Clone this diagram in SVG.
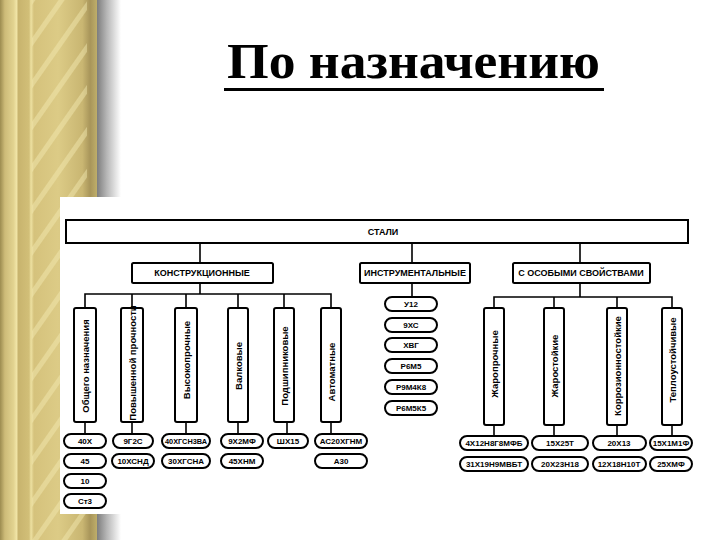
<svg xmlns="http://www.w3.org/2000/svg" width="720" height="540" viewBox="0 0 720 540">
<defs>
<linearGradient id="gold" x1="0" y1="0" x2="97" y2="0" gradientUnits="userSpaceOnUse">
<stop offset="0" stop-color="#9c8c50"/>
<stop offset="0.05" stop-color="#cdbb78"/>
<stop offset="0.14" stop-color="#e2d390"/>
<stop offset="0.17" stop-color="#f0e4a6"/>
<stop offset="0.19" stop-color="#c8b46e"/>
<stop offset="0.3" stop-color="#d2bf78"/>
<stop offset="0.32" stop-color="#ede1a2"/>
<stop offset="0.35" stop-color="#d5c27c"/>
<stop offset="0.6" stop-color="#dccb86"/>
<stop offset="0.85" stop-color="#c9b672"/>
<stop offset="0.93" stop-color="#a8955a"/>
<stop offset="1" stop-color="#bfae6a"/>
</linearGradient>
<linearGradient id="shadow" x1="0" y1="0" x2="1" y2="0">
<stop offset="0" stop-color="#7d7d7d"/>
<stop offset="0.4" stop-color="#b5b5b5"/>
<stop offset="1" stop-color="#ffffff"/>
</linearGradient>
<pattern id="streaks" width="24" height="24" patternUnits="userSpaceOnUse" patternTransform="rotate(-55)">
<rect x="0" y="0" width="24" height="5" fill="#f5ebb5" opacity="0.45"/>
</pattern>
<style>
.box{fill:#fff;stroke:#000;stroke-width:2;}
.pill{fill:#fff;stroke:#000;stroke-width:2;}
.ln{fill:none;stroke:#000;stroke-width:1.6;}
.hd{font-family:"Liberation Sans",Arial,sans-serif;font-weight:bold;font-size:9px;fill:#000;text-anchor:middle;dominant-baseline:central;}
.vt{font-family:"Liberation Sans",Arial,sans-serif;font-weight:bold;font-size:9.5px;fill:#000;text-anchor:middle;dominant-baseline:central;}
.pt{font-family:"Liberation Sans",Arial,sans-serif;font-weight:bold;font-size:8px;fill:#000;text-anchor:middle;dominant-baseline:central;}
.title{font-family:"Liberation Serif","Times New Roman",serif;font-weight:bold;font-size:50px;fill:#000;}
</style>
</defs>

<rect x="0" y="0" width="720" height="540" fill="#fff"/>
<g id="background-strip">
<rect x="0" y="0" width="97" height="540" fill="url(#gold)"/>
<rect x="32" y="0" width="55" height="540" fill="url(#streaks)"/>
<rect x="97" y="0" width="24" height="540" fill="url(#shadow)"/>
</g>

<g id="title">
<text class="title" x="227" y="78" textLength="373" lengthAdjust="spacingAndGlyphs">По назначению</text>
<rect x="224" y="88" width="380" height="3" fill="#000"/>
</g>

<rect id="diagram-paper" x="60" y="197" width="634" height="317" fill="#fff"/>

<g id="connectors">
<path class="ln" d="M200 243V263 M412 243V263 M580 243V263"/>
<path class="ln" d="M200 283V294 M85 308V294H331V308 M132 294V308 M186 294V308 M238 294V308 M284 294V308"/>
<path class="ln" d="M412 283V297"/>
<path class="ln" d="M580 283V297 M494 308V297H672V308 M554 297V308 M617 297V308"/>
<path class="ln" d="M85 422V434 M132 422V434 M186 422V434 M238 422V434 M287 422V434 M331 422V434"/>
<path class="ln" d="M494 425V436 M554 425V436 M617 425V436 M672 425V436"/>
</g>

<g id="node-stali"><rect class="box" x="66" y="220" width="622" height="23"/><text class="hd" x="383" y="232">СТАЛИ</text></g>
<g id="node-konstr"><rect class="box" x="132" y="263" width="141" height="20" rx="1.5"/><text class="hd" x="202" y="273">КОНСТРУКЦИОННЫЕ</text></g>
<g id="node-instr"><rect class="box" x="360" y="263" width="110" height="20" rx="1.5"/><text class="hd" x="415" y="273">ИНСТРУМЕНТАЛЬНЫЕ</text></g>
<g id="node-osob"><rect class="box" x="513" y="263" width="137" height="20" rx="1.5"/><text class="hd" x="581" y="273">С ОСОБЫМИ СВОЙСТВАМИ</text></g>

<g id="node-obshego"><rect class="box" x="74" y="308" width="22" height="114" rx="2"/><text class="vt" transform="translate(85 366) rotate(-90)">Общего назначения</text></g>
<g id="node-povysh"><rect class="box" x="121" y="308" width="22" height="114" rx="2"/><text class="vt" transform="translate(132 363) rotate(-90)">Повышенной прочности</text></g>
<g id="node-vysokopr"><rect class="box" x="175" y="308" width="22" height="114" rx="2"/><text class="vt" transform="translate(186 360) rotate(-90)">Высокопрочные</text></g>
<g id="node-valk"><rect class="box" x="228" y="308" width="20" height="114" rx="2"/><text class="vt" transform="translate(238 366) rotate(-90)">Валковые</text></g>
<g id="node-podsh"><rect class="box" x="274" y="308" width="20" height="114" rx="2"/><text class="vt" transform="translate(284 366) rotate(-90)">Подшипниковые</text></g>
<g id="node-avtom"><rect class="box" x="321" y="308" width="20" height="114" rx="2"/><text class="vt" transform="translate(331 372) rotate(-90)">Автоматные</text></g>

<g id="node-zharopr"><rect class="box" x="484" y="308" width="20" height="117" rx="2"/><text class="vt" transform="translate(494 364) rotate(-90)">Жаропрочные</text></g>
<g id="node-zharost"><rect class="box" x="544" y="308" width="20" height="117" rx="2"/><text class="vt" transform="translate(554 366) rotate(-90)">Жаростойкие</text></g>
<g id="node-korr"><rect class="box" x="607" y="308" width="20" height="117" rx="2"/><text class="vt" transform="translate(617 366) rotate(-90)">Коррозионностойкие</text></g>
<g id="node-teplo"><rect class="box" x="662" y="308" width="20" height="117" rx="2"/><text class="vt" transform="translate(672 360) rotate(-90)">Теплоустойчивые</text></g>

<g id="node-u12"><rect class="pill" x="385" y="297" width="52" height="14" rx="7"/><text class="pt" x="411" y="304">У12</text></g>
<g id="node-9hs"><rect class="pill" x="385" y="318" width="52" height="14" rx="7"/><text class="pt" x="411" y="325">9ХС</text></g>
<g id="node-hvg"><rect class="pill" x="385" y="338" width="52" height="14" rx="7"/><text class="pt" x="411" y="345">ХВГ</text></g>
<g id="node-r6m5"><rect class="pill" x="385" y="359" width="52" height="14" rx="7"/><text class="pt" x="411" y="366">Р6М5</text></g>
<g id="node-r9m4k8"><rect class="pill" x="385" y="380" width="52" height="14" rx="7"/><text class="pt" x="411" y="387">Р9М4К8</text></g>
<g id="node-r6m5k5"><rect class="pill" x="385" y="401" width="52" height="14" rx="7"/><text class="pt" x="411" y="408">Р6М5К5</text></g>

<g id="node-40h"><rect class="pill" x="64" y="434" width="42" height="14" rx="7"/><text class="pt" x="85" y="441">40Х</text></g>
<g id="node-45"><rect class="pill" x="64" y="454" width="42" height="14" rx="7"/><text class="pt" x="85" y="461">45</text></g>
<g id="node-10"><rect class="pill" x="64" y="474" width="42" height="14" rx="7"/><text class="pt" x="85" y="481">10</text></g>
<g id="node-st3"><rect class="pill" x="64" y="494" width="42" height="14" rx="7"/><text class="pt" x="85" y="501">Ст3</text></g>
<g id="node-9g2s"><rect class="pill" x="113" y="434" width="40" height="14" rx="7"/><text class="pt" x="133" y="441">9Г2С</text></g>
<g id="node-10hsnd"><rect class="pill" x="112" y="454" width="42" height="14" rx="7"/><text class="pt" x="133" y="461">10ХСНД</text></g>
<g id="node-40hgsn3va"><rect class="pill" x="162" y="434" width="48" height="14" rx="7"/><text class="pt" x="186" y="441" textLength="42" lengthAdjust="spacingAndGlyphs">40ХГСН3ВА</text></g>
<g id="node-30hgsna"><rect class="pill" x="162" y="454" width="48" height="14" rx="7"/><text class="pt" x="186" y="461">30ХГСНА</text></g>
<g id="node-9h2mf"><rect class="pill" x="221" y="434" width="42" height="14" rx="7"/><text class="pt" x="242" y="441">9Х2МФ</text></g>
<g id="node-45hnm"><rect class="pill" x="221" y="454" width="42" height="14" rx="7"/><text class="pt" x="242" y="461">45ХНМ</text></g>
<g id="node-shh15"><rect class="pill" x="268" y="434" width="40" height="14" rx="7"/><text class="pt" x="288" y="441">ШХ15</text></g>
<g id="node-as20hgnm"><rect class="pill" x="315" y="434" width="52" height="14" rx="7"/><text class="pt" x="341" y="441">АС20ХГНМ</text></g>
<g id="node-a30"><rect class="pill" x="315" y="454" width="52" height="14" rx="7"/><text class="pt" x="341" y="461">А30</text></g>

<g id="node-4h12"><rect class="pill" x="460" y="436" width="68" height="14" rx="7"/><text class="pt" x="494" y="443">4Х12Н8Г8МФБ</text></g>
<g id="node-31h19"><rect class="pill" x="460" y="457" width="68" height="14" rx="7"/><text class="pt" x="494" y="464">31Х19Н9МВБТ</text></g>
<g id="node-15h25t"><rect class="pill" x="532" y="436" width="56" height="14" rx="7"/><text class="pt" x="560" y="443">15Х25Т</text></g>
<g id="node-20h23n18"><rect class="pill" x="532" y="457" width="56" height="14" rx="7"/><text class="pt" x="560" y="464">20Х23Н18</text></g>
<g id="node-20h13"><rect class="pill" x="593" y="436" width="53" height="14" rx="7"/><text class="pt" x="619" y="443">20Х13</text></g>
<g id="node-12h18"><rect class="pill" x="593" y="457" width="53" height="14" rx="7"/><text class="pt" x="619" y="464">12Х18Н10Т</text></g>
<g id="node-15h1m1f"><rect class="pill" x="650" y="436" width="42" height="14" rx="7"/><text class="pt" x="671" y="443">15Х1М1Ф</text></g>
<g id="node-25hmf"><rect class="pill" x="650" y="457" width="42" height="14" rx="7"/><text class="pt" x="671" y="464">25ХМФ</text></g>
</svg>
